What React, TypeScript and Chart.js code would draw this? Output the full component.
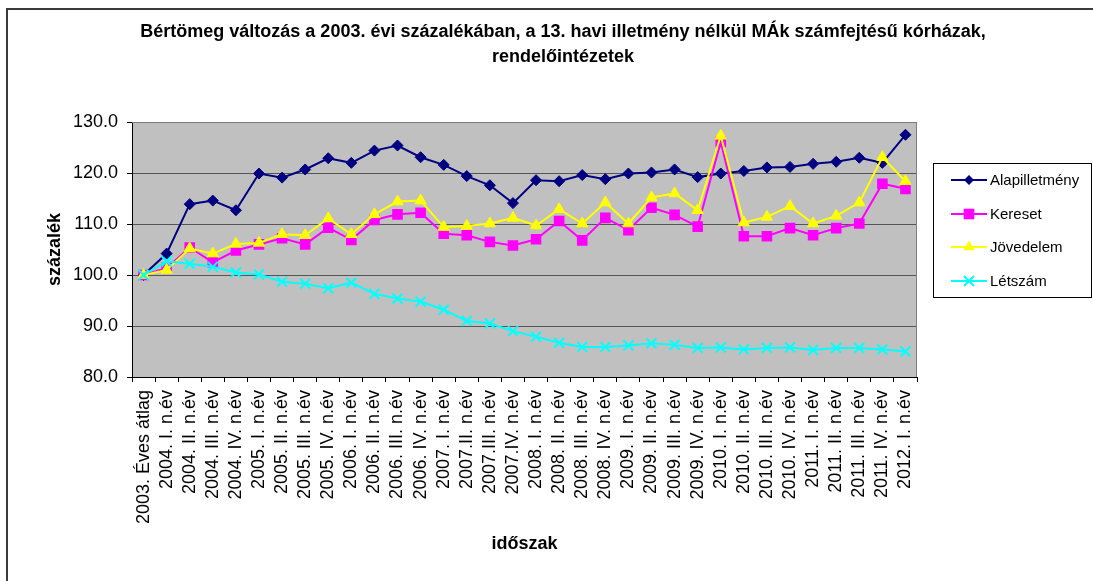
import React, { useEffect, useRef } from 'react';
import { Chart, registerables } from 'chart.js';

Chart.register(...registerables);

const FONT = "'Liberation Sans', Arial, sans-serif";

const titleLines = [
  'Bértömeg változás a 2003. évi százalékában, a 13. havi illetmény nélkül MÁk számfejtésű kórházak,',
  'rendelőintézetek',
];
const yTitle = 'százalék';
const xTitle = 'időszak';

const categories = [
  '2003. Éves átlag',
  '2004. I. n.év', '2004. II. n.év', '2004. III. n.év', '2004. IV. n.év',
  '2005. I. n.év', '2005. II. n.év', '2005. III. n.év', '2005. IV. n.év',
  '2006. I. n.év', '2006. II. n.év', '2006. III. n.év', '2006. IV. n.év',
  '2007. I. n.év', '2007.II. n.év', '2007.III. n.év', '2007.IV. n.év',
  '2008. I. n.év', '2008. II. n.év', '2008. III. n.év', '2008. IV. n.év',
  '2009. I. n.év', '2009. II. n.év', '2009. III. n.év', '2009. IV. n.év',
  '2010. I. n.év', '2010. II. n.év', '2010. III. n.év', '2010. IV. n.év',
  '2011. I. n.év', '2011. II. n.év', '2011. III. n.év', '2011. IV. n.év',
  '2012. I. n.év',
];

const alapilletmeny = [100.0, 104.2, 113.9, 114.6, 112.7, 119.9, 119.1, 120.7, 122.9, 122.0, 124.4, 125.4, 123.1, 121.6, 119.4, 117.6, 114.1, 118.6, 118.4, 119.6, 118.8, 119.9, 120.1, 120.7, 119.2, 119.9, 120.4, 121.1, 121.2, 121.8, 122.2, 123.0, 122.0, 127.5];
const kereset = [100.0, 101.4, 105.4, 102.5, 104.8, 106.0, 107.2, 106.0, 109.3, 106.9, 110.8, 111.9, 112.2, 108.1, 107.8, 106.5, 105.8, 107.0, 110.6, 106.8, 111.2, 108.8, 113.2, 111.8, 109.5, 126.1, 107.6, 107.6, 109.2, 107.8, 109.2, 110.1, 117.9, 116.9];
const jovedelem = [100.0, 101.0, 105.2, 104.2, 106.1, 106.3, 108.0, 107.8, 111.1, 108.0, 111.9, 114.4, 114.6, 109.4, 109.6, 110.1, 111.2, 109.7, 112.9, 110.1, 114.2, 110.1, 115.2, 116.0, 112.7, 127.3, 110.3, 111.4, 113.5, 110.1, 111.6, 114.2, 123.1, 118.4];
const letszam = [100.0, 102.7, 102.2, 101.6, 100.5, 100.1, 98.7, 98.3, 97.4, 98.5, 96.3, 95.4, 94.8, 93.2, 91.0, 90.5, 89.0, 87.9, 86.7, 85.9, 85.9, 86.2, 86.6, 86.3, 85.7, 85.8, 85.4, 85.7, 85.8, 85.3, 85.7, 85.7, 85.4, 85.0];

const seriesNames = ['Alapilletmény', 'Kereset', 'Jövedelem', 'Létszám'];
const yTicks = { min: 80, max: 130, step: 10 };

function drawMarker(ctx: CanvasRenderingContext2D, style: string, x: number, y: number, color: string) {
  ctx.save();
  ctx.fillStyle = color;
  ctx.strokeStyle = color;
  ctx.beginPath();
  if (style === 'rectRot') {
    const r = 5;
    ctx.moveTo(x, y - r); ctx.lineTo(x + r, y); ctx.lineTo(x, y + r); ctx.lineTo(x - r, y); ctx.closePath();
    ctx.fill();
  } else if (style === 'rect') {
    const s = 5.3;
    ctx.rect(x - s, y - s, 2 * s, 2 * s);
    ctx.fill();
  } else if (style === 'triangle') {
    const r = 6.5;
    ctx.moveTo(x, y - r);
    ctx.lineTo(x + r * Math.sin(Math.PI * 2 / 3), y - r * Math.cos(Math.PI * 2 / 3));
    ctx.lineTo(x + r * Math.sin(Math.PI * 4 / 3), y - r * Math.cos(Math.PI * 4 / 3));
    ctx.closePath();
    ctx.fill();
  } else {
    const d = 5;
    ctx.lineWidth = 2;
    ctx.moveTo(x - d, y - d); ctx.lineTo(x + d, y + d);
    ctx.moveTo(x + d, y - d); ctx.lineTo(x - d, y + d);
    ctx.stroke();
  }
  ctx.restore();
}

const decorPlugin = {
  id: 'decor',
  afterLayout(chart: any) {
    const t = chart.titleBlock;
    if (t) { t.left = 33; t.right = 1093; }
  },
  beforeDraw(chart: any) {
    const { ctx, chartArea: a } = chart;
    ctx.save();
    ctx.fillStyle = '#ffffff';
    ctx.fillRect(0, 0, chart.width, chart.height);
    ctx.strokeStyle = '#3a3a3a';
    ctx.lineWidth = 2;
    ctx.beginPath();
    ctx.moveTo(7, chart.height);
    ctx.lineTo(7, 9);
    ctx.lineTo(chart.width, 9);
    ctx.stroke();
    ctx.fillStyle = '#c0c0c0';
    ctx.fillRect(a.left, a.top, a.right - a.left, a.bottom - a.top);
    ctx.restore();
  },
  beforeDatasetsDraw(chart: any) {
    const { ctx, chartArea: a } = chart;
    ctx.save();
    ctx.strokeStyle = '#808080';
    ctx.lineWidth = 1;
    ctx.beginPath();
    ctx.moveTo(a.left, a.top + 0.5);
    ctx.lineTo(a.right - 0.5, a.top + 0.5);
    ctx.lineTo(a.right - 0.5, a.bottom);
    ctx.stroke();
    ctx.restore();
  },
  afterDraw(chart: any) {
    const ctx: CanvasRenderingContext2D = chart.ctx;
    ctx.save();
    const bx = 933, by = 163, bw = 158, bh = 134;
    ctx.fillStyle = '#ffffff';
    ctx.fillRect(bx, by, bw, bh);
    ctx.strokeStyle = '#000000';
    ctx.lineWidth = 1;
    ctx.strokeRect(bx + 0.5, by + 0.5, bw, bh);
    const rows = [180, 214, 247, 281];
    chart.data.datasets.forEach((ds: any, i: number) => {
      const y = rows[i];
      ctx.strokeStyle = ds.borderColor;
      ctx.lineWidth = 2;
      ctx.beginPath();
      ctx.moveTo(951, y);
      ctx.lineTo(987, y);
      ctx.stroke();
      drawMarker(ctx, ds.pointStyle, 969, y, ds.borderColor);
      ctx.fillStyle = '#000000';
      ctx.font = `15px ${FONT}`;
      ctx.textAlign = 'left';
      ctx.textBaseline = 'middle';
      ctx.fillText(ds.label, 990, y + 1);
    });
    ctx.restore();
  },
};

export default function App() {
  const ref = useRef<HTMLCanvasElement>(null);
  useEffect(() => {
    if (!ref.current) return;
    Chart.defaults.font.family = FONT;
    const chart = new Chart(ref.current, {
      type: 'line',
      data: {
        labels: categories,
        datasets: [
          {
            label: seriesNames[0], data: alapilletmeny, borderColor: '#000080', backgroundColor: '#000080',
            pointStyle: 'rectRot', pointRadius: 5.5, pointBorderWidth: 1, borderWidth: 2, order: 4,
          },
          {
            label: seriesNames[1], data: kereset, borderColor: '#ff00ff', backgroundColor: '#ff00ff',
            pointStyle: 'rect', pointRadius: 7.5, pointBorderWidth: 0, borderWidth: 2, order: 3,
          },
          {
            label: seriesNames[2], data: jovedelem, borderColor: '#ffff00', backgroundColor: '#ffff00',
            pointStyle: 'triangle', pointRadius: 6.5, pointBorderWidth: 1, borderWidth: 2, order: 2,
          },
          {
            label: seriesNames[3], data: letszam, borderColor: '#00ffff', backgroundColor: '#00ffff',
            pointStyle: 'crossRot', pointRadius: 7, pointBorderWidth: 2, borderWidth: 2, order: 1,
          },
        ],
      },
      options: {
        animation: false,
        responsive: false,
        devicePixelRatio: 1,
        layout: { padding: { left: 0, right: 176, top: 0, bottom: 0 } },
        elements: { line: { tension: 0 } },
        plugins: {
          legend: { display: false },
          tooltip: { enabled: false },
          title: {
            display: true,
            text: titleLines,
            color: '#000000',
            font: { size: 18, weight: 'bold', family: FONT, lineHeight: 1.39 },
            padding: { top: 19.5, bottom: 52.5 },
          },
        },
        scales: {
          x: {
            offset: true,
            grid: { offset: true, drawOnChartArea: false, drawTicks: true, tickLength: 5, tickColor: '#000000', color: '#000000' },
            border: { color: '#000000', width: 1 },
            ticks: { autoSkip: false, maxRotation: 90, minRotation: 90, color: '#000000', font: { size: 18, family: FONT }, padding: 8 },
            title: { display: true, text: xTitle, color: '#000000', font: { size: 18, weight: 'bold', family: FONT, lineHeight: 1.2 }, padding: { top: 0, bottom: 26 } },
            afterFit: (s: any) => { s.height = 204; },
          },
          y: {
            min: yTicks.min,
            max: yTicks.max,
            grid: { color: '#555555', tickColor: '#000000', tickLength: 5, drawTicks: true, lineWidth: 1 },
            border: { color: '#000000', width: 1 },
            ticks: {
              stepSize: yTicks.step, color: '#000000', font: { size: 18, family: FONT }, padding: 9,
              callback: (v: any) => Number(v).toFixed(1),
            },
            title: { display: true, text: yTitle, color: '#000000', font: { size: 18, weight: 'bold', family: FONT, lineHeight: 1.2 }, padding: { top: 44, bottom: 0 } },
            afterFit: (s: any) => { s.width = 132; },
          },
        },
      },
      plugins: [decorPlugin],
    } as any);
    return () => chart.destroy();
  }, []);
  return (
    <div style={{ position: 'absolute', left: 0, top: 0, width: 1093, height: 581 }}>
      <canvas ref={ref} width={1093} height={581} style={{ display: 'block', width: 1093, height: 581 }} />
    </div>
  );
}
